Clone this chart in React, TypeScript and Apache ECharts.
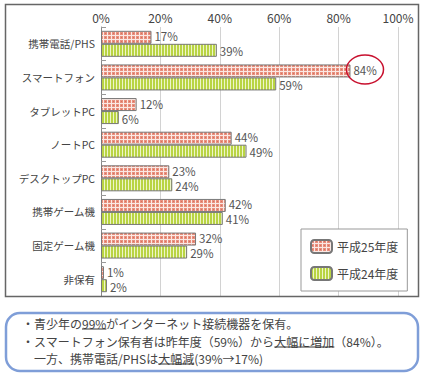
import React, { useEffect, useRef } from 'react';
import * as echarts from 'echarts';

const categories = ['携帯電話/PHS', 'スマートフォン', 'タブレットPC', 'ノートPC', 'デスクトップPC', '携帯ゲーム機', '固定ゲーム機', '非保有'];
const seriesNames = ['平成25年度', '平成24年度'];
const valuesH25 = [17, 84, 12, 44, 23, 42, 32, 1];
const valuesH24 = [39, 59, 6, 49, 24, 41, 29, 2];
const xMax = 100;
const xInterval = 20;

type Seg = [string, boolean];
const noteLine1: Seg[] = [['・青少年の', false], ['99%', true], ['がインターネット接続機器を保有。', false]];
const noteLine2: Seg[] = [['・スマートフォン保有者は昨年度（59%）から', false], ['大幅に増加', true], ['（84%）。', false]];
const noteLine3: Seg[] = [['一方、携帯電話/PHSは', false], ['大幅減', true], ['(39%→17%)', false]];

const FONT = "'Noto Sans CJK JP', 'Noto Sans CJK SC', sans-serif";

function makeTile(w: number, h: number, draw: (ctx: CanvasRenderingContext2D) => void) {
  const c = document.createElement('canvas');
  c.width = w;
  c.height = h;
  const ctx = c.getContext('2d')!;
  draw(ctx);
  return c;
}

export default function App() {
  const ref = useRef<HTMLDivElement>(null);
  useEffect(() => {
    document.body.style.margin = '0';
    const chart = echarts.init(ref.current!, null, { renderer: 'svg' });

    const redTile = makeTile(4, 4, (ctx) => {
      ctx.fillStyle = '#fbe8e3';
      ctx.fillRect(0, 0, 4, 4);
      ctx.fillStyle = '#e8907e';
      ctx.fillRect(0, 0, 3, 3);
      ctx.fillStyle = '#d9705e';
      ctx.fillRect(1, 1, 1, 1);
    });
    const greenTile = makeTile(3, 4, (ctx) => {
      ctx.fillStyle = '#b9d443';
      ctx.fillRect(0, 0, 3, 4);
      ctx.fillStyle = '#eef5c9';
      ctx.fillRect(2, 0, 1, 4);
    });
    const redPattern: any = { image: redTile, repeat: 'repeat', imageWidth: 4, imageHeight: 4 };
    const greenPattern: any = { image: greenTile, repeat: 'repeat', imageWidth: 3, imageHeight: 4 };

    // annotation text, one element per segment so underlines line up
    const noteFontSize = 12;
    const noteFont = `${noteFontSize}px ${FONT}`;
    const mc = document.createElement('canvas').getContext('2d')!;
    mc.font = noteFont;
    const noteGraphics: any[] = [];
    const lines: { segs: Seg[]; x: number; y: number }[] = [
      { segs: noteLine1, x: 22, y: 323 },
      { segs: noteLine2, x: 22, y: 341 },
      { segs: noteLine3, x: 22 + noteFontSize, y: 358 },
    ];
    lines.forEach((ln) => {
      let cx = ln.x;
      ln.segs.forEach((s) => {
        const w = mc.measureText(s[0]).width;
        noteGraphics.push({
          type: 'text',
          x: cx,
          y: ln.y,
          z: 20,
          style: { text: s[0], font: noteFont, fill: '#444', verticalAlign: 'middle', align: 'left' },
        });
        if (s[1]) {
          noteGraphics.push({
            type: 'line',
            z: 20,
            shape: { x1: cx, y1: ln.y + 6, x2: cx + w, y2: ln.y + 6 },
            style: { stroke: '#333', lineWidth: 1 },
          });
        }
        cx += w;
      });
    });

    const labelBase = { show: true, position: 'right', distance: 3, formatter: '{c}%', color: '#555', fontSize: 11.5, lineHeight: 12, fontFamily: FONT };

    const option: any = {
      animation: false,
      textStyle: { fontFamily: FONT },
      grid: { left: 101, top: 27, width: 297, height: 269, containLabel: false },
      xAxis: {
        type: 'value',
        position: 'top',
        min: 0,
        max: xMax,
        interval: xInterval,
        axisLine: { show: false },
        axisTick: { show: false },
        axisLabel: { formatter: '{value}%', color: '#444', fontSize: 12, margin: 4, fontFamily: FONT },
        splitLine: { show: true, lineStyle: { color: '#d2d2d2', width: 1 } },
      },
      yAxis: {
        type: 'category',
        data: categories,
        inverse: true,
        axisLine: { show: true, lineStyle: { color: '#888', width: 1 } },
        axisTick: { show: true, inside: true, length: 5, lineStyle: { color: '#999' } },
        axisLabel: { color: '#444', fontSize: 10.5, margin: 6, fontFamily: FONT },
      },
      legend: {
        orient: 'vertical',
        left: 301,
        top: 229,
        padding: [10, 9, 10, 9],
        itemWidth: 21,
        itemHeight: 13,
        itemGap: 12,
        borderColor: '#999',
        borderWidth: 1,
        backgroundColor: '#fff',
        textStyle: { color: '#444', fontSize: 12, fontFamily: FONT },
        data: seriesNames,
        z: 5,
      },
      series: [
        {
          name: seriesNames[0],
          type: 'bar',
          data: valuesH25,
          barWidth: 13,
          barGap: '0%',
          itemStyle: { color: redPattern, borderColor: '#777', borderWidth: 1 },
          label: { ...labelBase, offset: [0, -1] },
        },
        {
          name: seriesNames[1],
          type: 'bar',
          data: valuesH24,
          barWidth: 13,
          barGap: '0%',
          itemStyle: { color: greenPattern, borderColor: '#777', borderWidth: 1 },
          label: { ...labelBase, offset: [0, 1] },
        },
      ],
      graphic: [
        {
          type: 'rect',
          z: 10,
          shape: { x: 5.5, y: 4.5, width: 413, height: 292 },
          style: { fill: 'none', stroke: '#666', lineWidth: 1.5 },
        },
        {
          type: 'ellipse',
          z: 10,
          shape: { cx: 365, cy: 69.5, rx: 18.5, ry: 14.5 },
          style: { fill: 'none', stroke: '#c8102e', lineWidth: 1.5 },
        },
        {
          type: 'rect',
          z: 10,
          shape: { x: 6, y: 313, width: 412, height: 58, r: 14 },
          style: { fill: '#fff', stroke: '#7f9ed8', lineWidth: 2.5 },
        },
        ...noteGraphics,
      ],
    };
    chart.setOption(option);
    return () => chart.dispose();
  }, []);
  return <div ref={ref} style={{ width: 423, height: 375 }} />;
}
